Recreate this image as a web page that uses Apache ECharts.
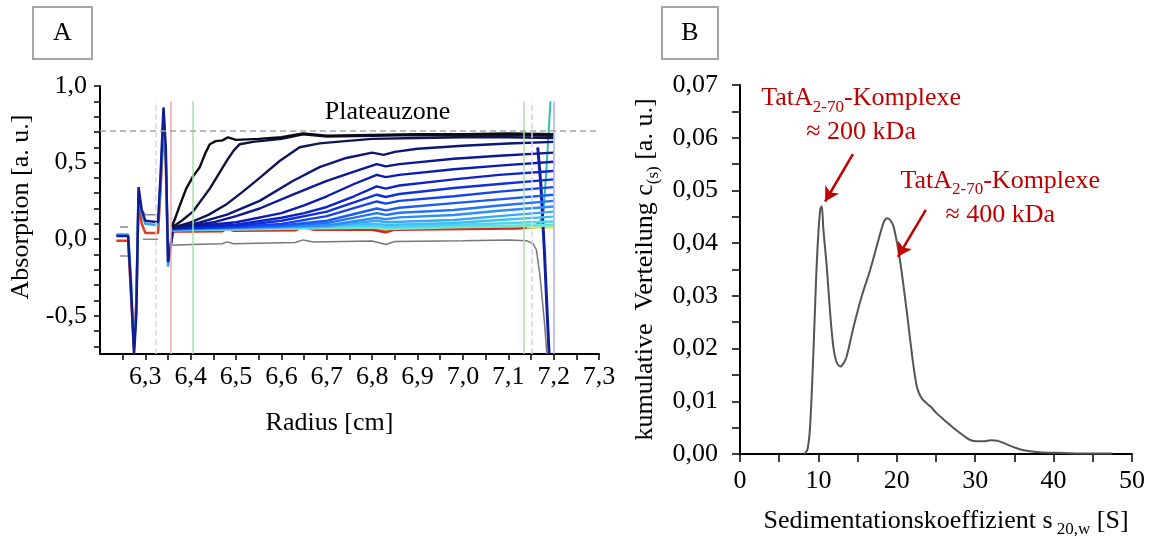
<!DOCTYPE html>
<html>
<head>
<meta charset="utf-8">
<script src="https://cdn.jsdelivr.net/npm/echarts@6/dist/echarts.min.js"></script>
<style>
  html, body { margin: 0; padding: 0; background: #fff; }
  #chart { width: 1164px; height: 540px; }
</style>
</head>
<body>
<div id="chart"></div>
<script>
// ---------- Panel A: absorption scans (radius [cm], absorption) ----------
const scan1 = [[6.358,0.08],[6.365,0.13],[6.376,0.22],[6.39,0.33],[6.405,0.41],[6.42,0.47],[6.432,0.56],[6.442,0.62],[6.455,0.64],[6.47,0.645],[6.482,0.665],[6.50,0.648],[6.55,0.655],[6.60,0.665],[6.648,0.69],[6.70,0.675],[6.80,0.68],[6.90,0.685],[7.00,0.685],[7.10,0.69],[7.20,0.685]]
const scan2 = [[6.36,0.08],[6.38,0.12],[6.405,0.18],[6.442,0.33],[6.479,0.51],[6.495,0.58],[6.508,0.62],[6.537,0.635],[6.60,0.655],[6.648,0.685],[6.70,0.67],[6.80,0.675],[6.90,0.68],[7.00,0.675],[7.10,0.68],[7.20,0.675]]
const scan3 = [[6.36,0.075],[6.40,0.11],[6.44,0.16],[6.48,0.23],[6.515,0.31],[6.552,0.40],[6.596,0.51],[6.64,0.60],[6.684,0.625],[6.74,0.64],[6.80,0.655],[6.90,0.66],[7.00,0.665],[7.10,0.665],[7.20,0.66]]
const scan4 = [[6.36,0.07],[6.42,0.11],[6.48,0.16],[6.552,0.25],[6.625,0.38],[6.684,0.47],[6.743,0.53],[6.80,0.565],[6.825,0.55],[6.85,0.57],[6.90,0.59],[7.00,0.61],[7.10,0.625],[7.20,0.635]]
const scan5 = [[6.36,0.07],[6.45,0.11],[6.50,0.15],[6.552,0.20],[6.625,0.29],[6.70,0.38],[6.77,0.45],[6.81,0.49],[6.83,0.475],[6.86,0.49],[6.98,0.525],[7.08,0.545],[7.20,0.565]]
const scan6 = [[6.36,0.07],[6.50,0.11],[6.60,0.17],[6.65,0.22],[6.70,0.28],[6.76,0.36],[6.81,0.42],[6.83,0.405],[6.86,0.42],[6.98,0.456],[7.08,0.48],[7.20,0.505]]
const scan7 = [[6.36,0.07],[6.50,0.095],[6.60,0.14],[6.65,0.17],[6.70,0.21],[6.76,0.28],[6.81,0.345],[6.83,0.33],[6.86,0.35],[6.98,0.39],[7.08,0.42],[7.20,0.445]]
const scan8 = [[6.36,0.07],[6.50,0.085],[6.60,0.12],[6.70,0.18],[6.81,0.29],[6.83,0.275],[6.86,0.295],[6.98,0.334],[7.08,0.36],[7.20,0.39]]
const scan9 = [[6.36,0.068],[6.50,0.08],[6.60,0.10],[6.70,0.15],[6.81,0.246],[6.83,0.232],[6.86,0.25],[6.98,0.28],[7.08,0.31],[7.20,0.34]]
const scan10 = [[6.36,0.066],[6.60,0.09],[6.70,0.12],[6.81,0.20],[6.83,0.188],[6.86,0.205],[6.98,0.235],[7.08,0.26],[7.20,0.29]]
const scan11 = [[6.36,0.065],[6.60,0.085],[6.70,0.105],[6.81,0.17],[6.83,0.158],[6.86,0.172],[6.98,0.19],[7.08,0.22],[7.20,0.25]]
const scan12 = [[6.36,0.064],[6.70,0.09],[6.81,0.14],[6.83,0.13],[6.86,0.142],[6.98,0.158],[7.08,0.185],[7.20,0.213]]
const scan13 = [[6.36,0.063],[6.70,0.085],[6.81,0.12],[6.83,0.11],[6.98,0.125],[7.08,0.15],[7.20,0.18]]
const scan14 = [[6.36,0.062],[6.81,0.10],[6.83,0.092],[6.98,0.105],[7.08,0.125],[7.20,0.147]]
const scan15 = [[6.36,0.061],[6.81,0.088],[6.83,0.08],[6.98,0.092],[7.20,0.115]]
const scan16 = [[6.36,0.06],[6.81,0.08],[6.83,0.072],[6.98,0.082],[7.20,0.095]]
const scan17 = [[6.36,0.058],[6.81,0.075],[6.83,0.066],[6.98,0.078],[7.20,0.088]]
const scans = [scan1, scan2, scan3, scan4, scan5, scan6, scan7, scan8, scan9, scan10, scan11, scan12, scan13, scan14, scan15, scan16, scan17]
const scanColors = ['#0b0b1a', '#111437', '#0f1658', '#0c177a', '#0a1896', '#0b1cb4', '#0e22cc', '#1030e0',
  '#1444ec', '#1a5cf2', '#2474f6', '#2e8ef8', '#38a8f8', '#40c0f2', '#4cd4ea', '#64e2d8', '#8ee8c0']

// last scans near the baseline + reference scan below
const baseRed = [[6.36,0.05],[6.40,0.05],[6.47,0.052],[6.48,0.068],[6.495,0.055],[6.63,0.058],[6.648,0.078],[6.67,0.062],[6.80,0.062],[6.83,0.045],[6.85,0.062],[7.00,0.066],[7.12,0.07],[7.16,0.08],[7.172,0.12],[7.178,0.2]]
const baseOrange = [[6.36,0.06],[6.40,0.06],[6.47,0.062],[6.48,0.077],[6.495,0.064],[6.63,0.067],[6.648,0.087],[6.67,0.071],[6.80,0.071],[6.83,0.055],[6.85,0.071],[7.00,0.075],[7.12,0.078],[7.16,0.088],[7.17,0.11]]
const baseYellow = [[7.14,0.082],[7.20,0.082]]
const greyScan = [[6.36,-0.04],[6.40,-0.035],[6.47,-0.03],[6.48,-0.018],[6.495,-0.03],[6.63,-0.022],[6.648,-0.005],[6.67,-0.018],[6.80,-0.012],[6.83,-0.035],[6.85,-0.015],[7.00,-0.01],[7.10,-0.005],[7.14,-0.01],[7.155,-0.03],[7.162,-0.07],[7.17,-0.24],[7.18,-0.55],[7.185,-0.75]]

// reference / meniscus region on the left
const menX = [6.236, 6.262, 6.268, 6.275, 6.280, 6.285, 6.292, 6.300, 6.328, 6.334, 6.340, 6.345, 6.350, 6.356, 6.362]
const menNavy = [0.02, 0.02, -0.3, -0.75, -0.5, 0.34, 0.19, 0.12, 0.11, 0.45, 0.86, 0.6, -0.15, -0.05, 0.09]
const menCyan = [0.03, 0.03, -0.25, -0.7, -0.45, 0.3, 0.17, 0.1, 0.09, 0.4, 0.8, 0.55, -0.18, -0.04, 0.07]
const menRed = [-0.01, -0.01, -0.35, -0.72, -0.4, 0.25, 0.1, 0.04, 0.04, 0.35, 0.72, 0.5, -0.1, -0.02, 0.05]
const refGreyHi1 = [[6.244,0.08],[6.262,0.08]]
const refGreyLo1 = [[6.244,-0.11],[6.262,-0.11]]
const refGreyHi2 = [[6.29,0.2],[6.30,0.16],[6.328,0.16]]
const refGreyLo2 = [[6.295,0.0],[6.328,0.0]]

// cell bottom on the right
const spikeNavy = [[7.165,0.6],[7.172,0.35],[7.18,-0.1],[7.186,-0.5],[7.19,-0.75]]
const spikeTeal = [[7.172,0.12],[7.178,0.2],[7.184,0.45],[7.19,0.75],[7.193,0.9]]

// vertical marker lines and plateau level
const markerX = [6.323, 6.357, 6.404, 7.135, 7.152, 7.2]
const markerColors = ['#d8d8d8', '#f2a6ae', '#a8e0a8', '#a8e0a8', '#c8d8f0', '#a8acf0']
const plateauLevel = 0.71

const aTicksX = [6.25, 6.3, 6.35, 6.4, 6.45, 6.5, 6.55, 6.6, 6.65, 6.7, 6.75, 6.8, 6.85, 6.9, 6.95, 7.0, 7.05, 7.1, 7.15, 7.2, 7.25, 7.3]
const aLabelsX = [6.3, 6.4, 6.5, 6.6, 6.7, 6.8, 6.9, 7.0, 7.1, 7.2, 7.3]
const aTicksY = [-0.7, -0.6, -0.5, -0.4, -0.3, -0.2, -0.1, 0, 0.1, 0.2, 0.3, 0.4, 0.5, 0.6, 0.7, 0.8, 0.9, 1.0]
const aLabelsY = [-0.5, 0, 0.5, 1.0]

// ---------- Panel B: c(s) distribution ----------
const sedCoef = [8.2, 8.6, 8.94, 9.36, 9.7, 10.0, 10.25, 10.43, 10.64, 11.07, 11.5, 11.9, 12.3, 12.77, 13.2, 13.6, 14.5, 15.5, 16.6, 17.9, 18.4, 18.8, 19.2, 19.6, 20.4, 21.3, 22.1, 22.6, 23.2, 24.3, 25.1, 26.0, 26.8, 27.6, 28.5, 29.3, 30.2, 31.1, 32.0, 32.8, 33.6, 34.4, 35.3, 36.2, 37.0, 38.5, 41.3, 44.0, 47.5]
const cDist = [0, 0.0008, 0.0052, 0.0191, 0.033, 0.042, 0.0465, 0.047, 0.0425, 0.0355, 0.0267, 0.0204, 0.0175, 0.0166, 0.0172, 0.0185, 0.0242, 0.0298, 0.0349, 0.0419, 0.0442, 0.0447, 0.0443, 0.0431, 0.0368, 0.0267, 0.017, 0.0125, 0.0105, 0.009, 0.0077, 0.0065, 0.0055, 0.0045, 0.0035, 0.0027, 0.0024, 0.0024, 0.0026, 0.0025, 0.0021, 0.0016, 0.0011, 0.0007, 0.0005, 0.0003, 0.0002, 0.0001, 0.0001]

const FONT = '"Liberation Serif", "Times New Roman", serif'
const RED = '#c00000'

const chart = echarts.init(document.getElementById('chart'))

const fmtComma = digits => v => Number(v).toFixed(digits).replace('.', ',')

const lineA = (data, color, width, z) => ({
  type: 'line',
  xAxisIndex: 0,
  yAxisIndex: 0,
  data,
  showSymbol: false,
  symbol: 'none',
  silent: true,
  z: z || 2,
  lineStyle: { color, width: width || 2 }
})

const seriesA = []
// draw bottom (light) scans first so darker ones end up on top
for (let i = scans.length - 1; i >= 0; i--) {
  seriesA.push(lineA(scans[i], scanColors[i], 2.4, 3 + (scans.length - i) / 100))
}
seriesA.push(lineA(baseOrange, '#f09a30', 2.5))
seriesA.push(lineA(baseRed, '#d82818', 2.5))
seriesA.push(lineA(baseYellow, '#e8e040', 4))
seriesA.push(lineA(refGreyHi1, '#888', 1.5))
seriesA.push(lineA(refGreyLo1, '#888', 1.5))
seriesA.push(lineA(refGreyHi2, '#888', 1.5))
seriesA.push(lineA(refGreyLo2, '#888', 1.5))
seriesA.push(lineA(menX.map((x, i) => [x, menRed[i]]), '#e04020', 2.5))
seriesA.push(lineA(menX.map((x, i) => [x, menCyan[i]]), '#30a8e8', 2.5))
seriesA.push(lineA(menX.map((x, i) => [x, menNavy[i]]), '#101c90', 2.5))
seriesA.push(lineA(spikeTeal, '#30c0a8', 2))
seriesA.push(lineA(spikeNavy, '#1020a0', 3))

const greySeries = lineA(greyScan, '#777', 1.5)
greySeries.markLine = {
  silent: true,
  symbol: 'none',
  animation: false,
  label: { show: false },
  data: markerX.map((x, i) => [
    { coord: [x, -0.75], lineStyle: { color: markerColors[i], width: 1.5, type: i === 0 || i === 4 ? 'dashed' : 'solid' } },
    { coord: [x, 0.9] }
  ]).concat([[
    { coord: [6.2, plateauLevel], lineStyle: { color: '#a6a6a6', width: 1.5, type: [6, 4] } },
    { coord: [7.295, plateauLevel] }
  ]])
}
greySeries.markPoint = {
  silent: true,
  symbolSize: 0,
  data: [{ coord: [6.834, 0.828] }],
  label: { show: true, formatter: 'Plateauzone', color: '#000', fontSize: 26, fontFamily: FONT }
}
seriesA.push(greySeries)

const subRich = (color) => ({
  t: { fontSize: 26, fontFamily: FONT, color, lineHeight: 34, verticalAlign: 'middle' },
  s: { fontSize: 17, fontFamily: FONT, color, lineHeight: 17, verticalAlign: 'bottom' }
})

const seriesB = {
  type: 'line',
  xAxisIndex: 1,
  yAxisIndex: 1,
  data: sedCoef.map((s, i) => [s, cDist[i]]),
  showSymbol: false,
  symbol: 'none',
  smooth: 0.3,
  silent: true,
  lineStyle: { color: '#555', width: 2 },
  markLine: {
    silent: true,
    symbol: ['none', 'arrow'],
    symbolSize: [12, 14],
    label: { show: false },
    lineStyle: { color: RED, width: 2.5, type: 'solid' },
    data: [
      [{ coord: [14.4, 0.0569] }, { coord: [10.86, 0.0479] }],
      [{ coord: [23.7, 0.0463] }, { coord: [20.14, 0.0374] }]
    ]
  },
  markPoint: {
    silent: true,
    symbolSize: 0,
    label: { show: true, align: 'center', rich: subRich(RED) },
    data: [
      { coord: [15.45, 0.0642], label: { formatter: '{t|TatA}{s|2-70}{t|-Komplexe}\n{t|≈ 200 kDa}' } },
      { coord: [33.2, 0.0485], label: { formatter: '{t|TatA}{s|2-70}{t|-Komplexe}\n{t|≈ 400 kDa}' } }
    ]
  }
}

const axisFont = { color: '#000', fontSize: 26, fontFamily: FONT }
const axisLineStyle = { show: true, onZero: false, lineStyle: { color: '#000', width: 2 } }

const option = {
  animation: false,
  backgroundColor: '#fff',
  grid: [
    { left: 100, top: 86, width: 499, height: 268, outerBoundsMode: 'none' },
    { left: 740, top: 85, width: 392, height: 369, outerBoundsMode: 'none' }
  ],
  xAxis: [
    {
      gridIndex: 0, type: 'value', min: 6.2, max: 7.3,
      axisLine: axisLineStyle,
      axisTick: { show: true, customValues: aTicksX, length: 6, lineStyle: { color: '#000', width: 1.5 } },
      axisLabel: { customValues: aLabelsX, formatter: fmtComma(1), margin: 10, ...axisFont },
      splitLine: { show: false },
      name: 'Radius [cm]', nameLocation: 'middle', nameGap: 56, nameMoveOverlap: false,
      nameTextStyle: { ...axisFont, padding: [0, 40, 0, 0] }
    },
    {
      gridIndex: 1, type: 'value', min: 0, max: 50, interval: 10,
      axisLine: axisLineStyle,
      axisTick: { show: true, length: 8, lineStyle: { color: '#000', width: 1.5 } },
      minorTick: { show: true, splitNumber: 2, length: 8, lineStyle: { color: '#000', width: 1.5 } },
      axisLabel: { margin: 14, ...axisFont },
      splitLine: { show: false },
      name: '{t|Sedimentationskoeffizient s}{s| 20,w}{t| [S]}', nameLocation: 'middle', nameGap: 50, nameMoveOverlap: false,
      nameTextStyle: { padding: [0, 0, 0, 20], rich: subRich('#000') }
    }
  ],
  yAxis: [
    {
      gridIndex: 0, type: 'value', min: -0.75, max: 1.0,
      axisLine: axisLineStyle,
      axisTick: { show: true, customValues: aTicksY, length: 6, lineStyle: { color: '#000', width: 1.5 } },
      axisLabel: { customValues: aLabelsY, formatter: fmtComma(1), margin: 13, ...axisFont },
      splitLine: { show: false },
      name: 'Absorption [a. u.]', nameLocation: 'middle', nameGap: 66, nameMoveOverlap: false,
      nameTextStyle: { ...axisFont, padding: [0, 0, 0, 26] }
    },
    {
      gridIndex: 1, type: 'value', min: 0, max: 0.07, interval: 0.01,
      axisLine: axisLineStyle,
      axisTick: { show: true, length: 8, lineStyle: { color: '#000', width: 1.5 } },
      minorTick: { show: true, splitNumber: 2, length: 8, lineStyle: { color: '#000', width: 1.5 } },
      axisLabel: { formatter: fmtComma(2), margin: 22, ...axisFont },
      splitLine: { show: false },
      name: '{t|kumulative  Verteilung c}{s|(s)}{t| [a. u.]}', nameLocation: 'middle', nameGap: 78, nameMoveOverlap: false,
      nameTextStyle: { rich: subRich('#000') }
    }
  ],
  graphic: [
    { type: 'rect', shape: { x: 33, y: 7, width: 59, height: 52 }, style: { fill: '#fff', stroke: '#a6a6a6', lineWidth: 2 } },
    { type: 'text', x: 62.5, y: 33, style: { text: 'A', font: '26px "Liberation Serif"', fill: '#000', align: 'center', verticalAlign: 'middle' } },
    { type: 'rect', shape: { x: 662, y: 7, width: 56, height: 52 }, style: { fill: '#fff', stroke: '#a6a6a6', lineWidth: 2 } },
    { type: 'text', x: 690, y: 33, style: { text: 'B', font: '26px "Liberation Serif"', fill: '#000', align: 'center', verticalAlign: 'middle' } }
  ],
  series: seriesA.concat([seriesB])
}

chart.setOption(option)
</script>
</body>
</html>
